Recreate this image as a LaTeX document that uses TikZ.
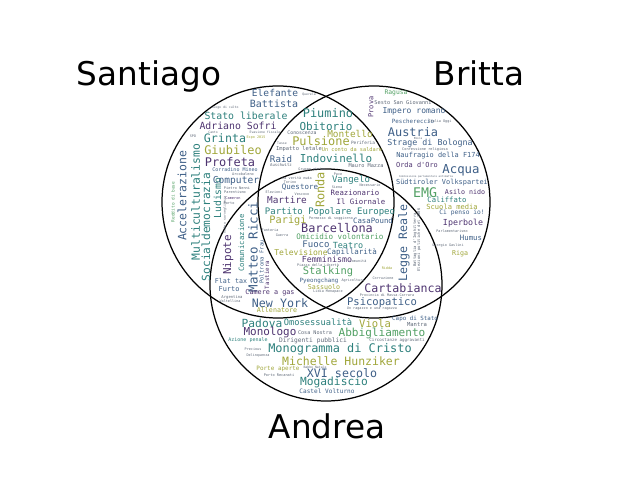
\documentclass[tikz,border=0pt]{standalone}
\usepackage{fontspec}
\setmainfont{DejaVu Sans}
\newfontfamily\cloudfont{DejaVu Sans Mono}
\definecolor{VPurple}{RGB}{78,52,112}
\definecolor{VBlue}{RGB}{62,95,135}
\definecolor{VTeal}{RGB}{45,128,124}
\definecolor{VGreen}{RGB}{82,160,100}
\definecolor{VOlive}{RGB}{160,166,58}
\definecolor{VGrey}{RGB}{95,105,120}

\begin{document}
\begin{tikzpicture}[x=0.01in, y=-0.01in,
    setcircle/.style={draw=black, line width=0.9pt},
    setname/.style={font=\fontsize{23.6}{24}\selectfont, anchor=base, inner sep=0pt},
    word/.style={font=\cloudfont, inner sep=0pt, anchor=center}
]
    \useasboundingbox (0,0) rectangle (640,480);

    % the three sets
    \draw[setcircle] (278,202) circle[radius=116];
    \draw[setcircle] (374,202) circle[radius=116];
    \draw[setcircle] (326,285) circle[radius=116];

    \node[setname] (santiago) at (149,86) {Santiago};
    \node[setname] (britta) at (479,86) {Britta};
    \node[setname] (andrea) at (327,439) {Andrea};

    % Santiago only
    \foreach \px/\py/\s/\c/\r/\t [count=\i] in {
        275/93/6.9/VBlue/0/Elefante, 309/94/2.3/VGrey/0/Querela,
        274/104/7.2/VBlue/0/Battista, 225/108/2.3/VGrey/0/Luogo di culto,
        246/116/7.1/VTeal/0/Stato liberale, 238/126/7.1/VPurple/0/Adriano Sofri,
        213/132.5/2.2/VGrey/0/Canto, 265/132.5/2.3/VGrey/0/Evasione fiscale,
        193/136/2.5/VGrey/0/SPD, 225/138.5/8.4/VTeal/0/Grinta,
        256/137.5/2.5/VOlive/0/Expo 2015, 233/150/8.6/VOlive/0/Giubileo,
        230/162/8.6/VPurple/0/Profeta, 195.5/202/8.2/VTeal/90/Multiculturalismo,
        182/196/8.3/VBlue/90/Accelerazione, 206/227/8.1/VTeal/90/Socialdemocrazia,
        217.5/198/7.0/VTeal/90/Ludismo, 173/202/3.2/VGreen/90/Reddito di base,
        235/169.8/3.6/VBlue/0/Corradino Mineo, 243/174/2.6/VGrey/0/Arcobaleno,
        236/180.5/6.9/VBlue/0/Computer, 237/188/2.6/VGrey/0/Pietro Nenni,
        235/192/2.6/VGrey/0/Parentismo, 233/198/2.6/VPurple/0/Cameron,
        229/203/2.6/VGrey/0/Porto, 225/215/2.4/VGrey/90/Video sorveglianza,
        228/255/7.9/VPurple/90/Nipote, 253/247/9.0/VBlue/90/Matteo Ricci,
        241.5/243/5.3/VTeal/90/Comunicazione, 261.5/262/4.0/VBlue/90/Poltrona Frau,
        267/275/4.2/VPurple/90/Tastiera, 231/281/4.8/VBlue/0/Flat tax,
        229/289/5.0/VBlue/0/Furto, 270/293/4.9/VPurple/0/Camere a gas,
        232/297.5/2.8/VGrey/0/Argentina, 230/301.5/2.5/VGrey/0/Valtellina,
        280/303/8.4/VBlue/0/New York, 277/310.5/4.8/VOlive/0/Allenatore}
        \node[word, text=\c, rotate=\r] (s\i) at (\px,\py) {\fontsize{\s}{\s}\selectfont\t};

    % Santiago and Britta
    \foreach \px/\py/\s/\c/\r/\t [count=\i] in {
        328/113/8.6/VTeal/0/Piumino, 326/126.5/7.9/VTeal/0/Obitorio,
        350/134/6.8/VOlive/0/Montello, 302/132.5/3.5/VGrey/0/Conoscenza,
        321/141.5/8.6/VOlive/0/Pulsione, 363/143/3.2/VGrey/0/Periferia,
        299/148.8/3.9/VGrey/0/Impatto letale, 352/150/3.8/VOlive/0/Un conto da saldare,
        336/158/7.9/VTeal/0/Indovinello, 281/159/6.6/VBlue/0/Raid,
        281/165/2.9/VGrey/0/Auschwitz, 366/165.5/3.8/VGrey/0/Mauro Mazza,
        371/107/5.0/VPurple/90/Prova, 282/143/2.3/VGrey/0/Tasse}
        \node[word, text=\c, rotate=\r] (sb\i) at (\px,\py) {\fontsize{\s}{\s}\selectfont\t};

    % middle, Santiago and Andrea, Britta and Andrea
    \foreach \px/\py/\s/\c/\r/\t [count=\i] in {
        300/187/5.4/VBlue/0/Questore, 320/190/8.6/VOlive/90/Ronda,
        287/200/6.8/VPurple/0/Martire, 330/212/6.5/VTeal/0/Partito Popolare Europeo,
        288/221/7.4/VOlive/0/Parigi, 337/228/8.6/VPurple/0/Barcellona,
        340/236.5/5.5/VGreen/0/Omicidio volontario, 316/244/6.5/VBlue/0/Fuoco,
        348/245/6.1/VTeal/0/Teatro, 301/252/5.8/VOlive/0/Televisione,
        352/252/5.4/VBlue/0/Capillarità, 327/259.5/6.0/VPurple/0/Femminismo,
        328/272/7.5/VGreen/0/Stalking, 319/281/4.2/VBlue/0/Pyeongchang,
        324/287/4.8/VOlive/0/Sassuolo, 328/292/2.5/VGrey/0/Lidia Menapace,
        353/281/2.5/VGrey/0/Agricoltura, 358/261/2.5/VGrey/0/Comunità,
        318/265.5/2.5/VGrey/0/Piazza della Libertà, 282/235/2.5/VGrey/0/Guerra,
        270/230/2.5/VGrey/0/Fanteria, 331/218.3/2.5/VGrey/0/Permesso di soggiorno,
        351/180/6.5/VTeal/0/Vangelo, 355/193/5.3/VPurple/0/Reazionario,
        361/202/5.3/VPurple/0/Il Giornale, 373/221/5.3/VBlue/0/CasaPound,
        312/170/2.5/VGrey/0/Gruppo etnico, 297/178/2.5/VGrey/0/La verità nuda,
        290/182/2.5/VGrey/0/Torino, 274/192/2.5/VGrey/0/Elezioni,
        302/194/2.5/VGrey/0/Vescovo, 338/174/2.5/VGrey/0/Pace,
        337/187/2.5/VGrey/0/Siena, 370/185/2.5/VGrey/0/Necessario,
        404/243/8.4/VBlue/90/Legge Reale, 403/288/8.4/VPurple/0/Cartabianca,
        382/303/7.6/VBlue/0/Psicopatico, 372/309/2.5/VGrey/0/Un ragazzo e una ragazza,
        387/295/2.5/VGrey/0/Provincia di Massa-Carrara,
        415/240/2.8/VGrey/90/Battaglia d'Inghilterra,
        419/240/2.8/VGrey/90/Elezioni politiche del 2006,
        387/268/2.5/VOlive/0/Ridda, 383/278/2.5/VGrey/0/Corruzione}
        \node[word, text=\c, rotate=\r] (m\i) at (\px,\py) {\fontsize{\s}{\s}\selectfont\t};

    % Britta only
    \foreach \px/\py/\s/\c/\r/\t [count=\i] in {
        396/93/4.6/VGreen/0/Ragusa, 403/103/3.8/VGrey/0/Sesto San Giovanni,
        414/111/5.8/VBlue/0/Impero romano, 413/121/4.2/VBlue/0/Peschereccio,
        440/122/2.5/VGrey/0/Italia Oggi, 413/132/8.6/VBlue/0/Austria,
        418/138.3/2.0/VGrey/0/Ebola, 430/143.6/6.0/VBlue/0/Strage di Bologna,
        425/149.5/2.6/VGrey/0/Confessione religiosa, 438/156/5.0/VBlue/0/Naufragio della F174,
        417/165/5.0/VPurple/0/Orda d'Oro, 461/170/8.9/VBlue/0/Acqua,
        426/177/1.9/VGrey/0/Commissione parlamentare antimafia,
        442/182.3/5.0/VBlue/0/Südtiroler Volkspartei, 425/193/9.6/VGreen/0/EMG,
        465/192/4.8/VPurple/0/Asilo nido, 447/200/5.2/VTeal/0/Califfato,
        452/207/5.1/VOlive/0/Scuola media, 462/213/4.5/VBlue/0/Ci penso io!,
        463/223/6.0/VPurple/0/Iperbole, 452/231/2.5/VGrey/0/Parlamentarismo,
        471/238/5.3/VBlue/0/Humus, 448/246/2.5/VGrey/0/Giorgio Gaslini,
        460/254/4.8/VOlive/0/Riga}
        \node[word, text=\c, rotate=\r] (b\i) at (\px,\py) {\fontsize{\s}{\s}\selectfont\t};

    % Andrea only
    \foreach \px/\py/\s/\c/\r/\t [count=\i] in {
        262/323/8.1/VTeal/0/Padova, 318/322/6.3/VTeal/0/Omosessualità,
        375/324/7.6/VOlive/0/Viola, 415/319/4.2/VBlue/0/Capo di Stato,
        417/325/4.0/VGrey/0/Mantra, 270/332/7.9/VPurple/0/Monologo,
        315/333/3.7/VGrey/0/Cosa Nostra, 382/333/8.0/VGreen/0/Abbigliamento,
        248/340/3.6/VTeal/0/Azione penale, 313/341/4.5/VGrey/0/Dirigenti pubblici,
        397/340/3.0/VGrey/0/Circostanze aggravanti, 253/349/2.5/VGrey/0/Precious,
        340/349/8.6/VTeal/0/Monogramma di Cristo, 258/356/2.5/VGrey/0/Delinquenza,
        341/361/8.3/VOlive/0/Michelle Hunziker, 278/369/4.3/VOlive/0/Porte aperte,
        315/367.2/2.3/VGrey/0/Babbo Natale, 342/373.5/8.4/VBlue/0/XVI secolo,
        279/375/2.6/VGrey/0/Porto Recanati, 334/382.5/8.1/VTeal/0/Mogadiscio,
        327/391.5/4.4/VBlue/0/Castel Volturno}
        \node[word, text=\c, rotate=\r] (a\i) at (\px,\py) {\fontsize{\s}{\s}\selectfont\t};
\end{tikzpicture}
\end{document}
